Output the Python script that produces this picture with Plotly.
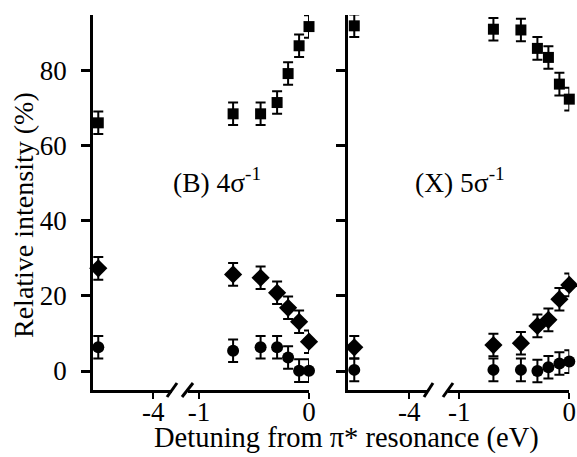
import plotly.graph_objects as go

W, H = 577, 457

# ---- data ----
far_x = [-4.5]
near_x = [-0.69, -0.44, -0.29, -0.19, -0.09, 0.0]

B_sq_far = [66.0]
B_sq_near = [68.4, 68.4, 71.4, 79.1, 86.5, 91.6]
B_di_far = [27.3]
B_di_near = [25.7, 24.8, 20.8, 16.8, 13.1, 7.8]
B_ci_far = [6.3]
B_ci_near = [5.4, 6.3, 6.3, 3.6, 0.1, 0.1]

X_sq_far = [91.8]
X_sq_near = [90.9, 90.7, 85.8, 83.4, 76.3, 72.3]
X_di_far = [6.3]
X_di_near = [6.9, 7.4, 12.0, 13.6, 19.1, 22.9]
X_ci_far = [0.3]
X_ci_near = [0.3, 0.3, 0.0, 1.0, 2.0, 2.5]

err_far = [3.0]
err_near = [3.0, 3.0, 3.0, 3.0, 3.0, 3.0]

y_ticks = [0, 20, 40, 60, 80]
y_ticktext = ["0", "20", "40", "60", "80"]
far_ticks = [-4]
far_ticktext = ["-4"]
near_ticks = [-1, 0]
near_ticktext = ["-1", "0"]

FONT = "Liberation Serif"
FS = 27

def fx(p):
    return p / W

def fy(p):
    return 1 - p / H

fig = go.Figure()

symbols = {"sq": ("square", 11), "di": ("diamond", 14), "ci": ("circle", 12)}

def add(x, y, err, sym, xa, ya):
    s, size = symbols[sym]
    fig.add_trace(go.Scatter(
        x=x, y=y, mode="markers", xaxis=xa, yaxis=ya,
        marker=dict(symbol=s, size=size, color="black"),
        error_y=dict(type="data", array=err, visible=True, color="black",
                     thickness=2, width=5),
        cliponaxis=False, showlegend=False))

# panel B
add(far_x, B_sq_far, err_far, "sq", "x", "y")
add(far_x, B_di_far, err_far, "di", "x", "y")
add(far_x, B_ci_far, err_far, "ci", "x", "y")
add(near_x, B_sq_near, err_near, "sq", "x2", "y")
add(near_x, B_di_near, err_near, "di", "x2", "y")
add(near_x, B_ci_near, err_near, "ci", "x2", "y")
# panel X
add(far_x, X_sq_far, err_far, "sq", "x3", "y2")
add(far_x, X_di_far, err_far, "di", "x3", "y2")
add(far_x, X_ci_far, err_far, "ci", "x3", "y2")
add(near_x, X_sq_near, err_near, "sq", "x4", "y2")
add(near_x, X_di_near, err_near, "di", "x4", "y2")
add(near_x, X_ci_near, err_near, "ci", "x4", "y2")

LW = 2.5
tickfont = dict(family=FONT, size=FS, color="black")

def xaxis(d0, d1, rng, tv, tt, anchor):
    return dict(domain=[fx(d0), fx(d1)], range=rng, anchor=anchor,
                automargin=False,
                showline=True, linecolor="black", linewidth=LW,
                showgrid=False, zeroline=False,
                tickmode="array", tickvals=tv, ticktext=tt,
                ticks="outside", ticklen=6, tickwidth=2, tickcolor="black",
                tickfont=tickfont, ticklabelstandoff=-10)

def yaxis(anchor, labels):
    return dict(domain=[fy(390), fy(15)], range=[-5.05, 94.68], anchor=anchor,
                automargin=False,
                showline=True, linecolor="black", linewidth=LW,
                showgrid=False, zeroline=False,
                tickmode="array", tickvals=y_ticks, ticktext=y_ticktext,
                showticklabels=labels,
                ticks="outside", ticklen=9, tickwidth=2.5, tickcolor="black",
                tickfont=tickfont, ticklabelstandoff=9)

fig.update_layout(
    width=W, height=H,
    margin=dict(l=0, r=0, t=0, b=0),
    paper_bgcolor="white", plot_bgcolor="white",
    font=dict(family=FONT, size=FS, color="black"),
    xaxis=xaxis(93, 172, [-4.548, -3.83], far_ticks, far_ticktext, "y"),
    xaxis2=xaxis(188, 309, [-1.1, 0.0], near_ticks, near_ticktext, "y"),
    xaxis3=xaxis(348, 428, [-4.557, -3.83], far_ticks, far_ticktext, "y2"),
    xaxis4=xaxis(448, 569.3, [-1.103, 0.0], near_ticks, near_ticktext, "y2"),
    yaxis=yaxis("x", True),
    yaxis2=yaxis("x3", False),
)

# axis break marks
for (a, b) in [(167, 177), (182, 193), (424, 433), (443, 453)]:
    fig.add_shape(type="line", xref="paper", yref="paper",
                  x0=fx(a), y0=fy(397), x1=fx(b), y1=fy(383),
                  line=dict(color="black", width=3))

ann = dict(xref="paper", yref="paper", showarrow=False)
fig.add_annotation(text="Relative intensity (%)", x=fx(23), y=fy(215),
                   textangle=-90, xanchor="center", yanchor="middle",
                   font=dict(family=FONT, size=28, color="black"), **ann)
fig.add_annotation(text="Detuning from π* resonance (eV)", x=fx(346), y=fy(438),
                   xanchor="center", yanchor="middle",
                   font=dict(family=FONT, size=28.5, color="black"), **ann)
fig.add_annotation(text="(B) 4σ<sup>-1</sup>", x=fx(217), y=fy(180),
                   xanchor="center", yanchor="middle",
                   font=dict(family=FONT, size=27.5, color="black"), **ann)
fig.add_annotation(text="(X) 5σ<sup>-1</sup>", x=fx(460), y=fy(180),
                   xanchor="center", yanchor="middle",
                   font=dict(family=FONT, size=27.5, color="black"), **ann)

fig.write_html("out.html", config={"displayModeBar": False},
               post_script="document.body.style.margin='0';document.body.style.overflow='hidden';")
